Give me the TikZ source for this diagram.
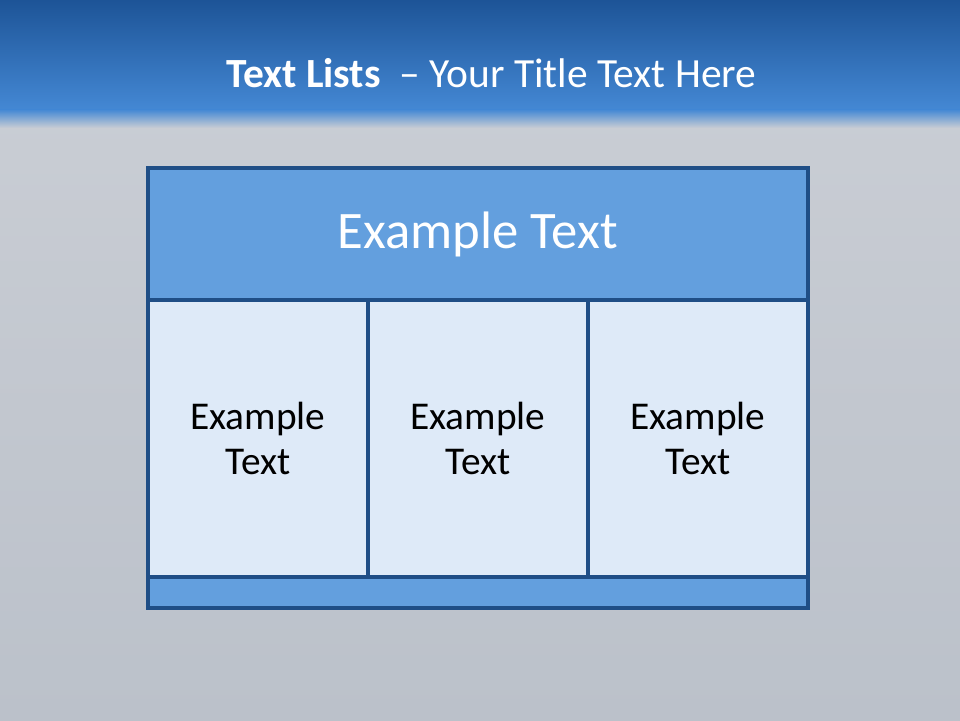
\documentclass[tikz,border=0pt]{standalone}
\usepackage{fontspec}
\setmainfont{Carlito}
\usepackage{xcolor}
\usetikzlibrary{positioning}
\definecolor{bandtop}{HTML}{1D5497}
\definecolor{bandbot}{HTML}{4488D4}
\definecolor{bgtop}{HTML}{C9CDD4}
\definecolor{bgbot}{HTML}{BBC1CA}
\definecolor{edge}{HTML}{1F4E86}
\definecolor{headfill}{HTML}{639FDE}
\definecolor{cellfill}{HTML}{DEEAF8}

\begin{document}
\begin{tikzpicture}[
  every node/.style={font=\rmfamily},
  headcell/.style={
    rectangle, draw=edge, line width=2.4pt,
    fill=headfill, text=white, outer sep=0pt,
    minimum width=16.5cm, minimum height=3.3cm,
    anchor=north west, font=\fontsize{37.5}{45}\selectfont
  },
  colcell/.style={
    rectangle, draw=edge, line width=2.4pt,
    fill=cellfill, text=black, outer sep=0pt, align=center,
    minimum width=5.5cm, minimum height=6.925cm,
    anchor=north west, font=\fontsize{28}{32.5}\selectfont
  },
  footcell/.style={
    rectangle, draw=edge, line width=2.4pt,
    fill=headfill, outer sep=0pt,
    minimum width=16.5cm, minimum height=0.775cm,
    anchor=north west
  }
]
\useasboundingbox (0,0) rectangle (24,18);

% Background and title band
\shade[top color=bgtop, bottom color=bgbot] (0,0) rectangle (24,15.3);
\shade[top color=bandtop, bottom color=bandbot] (0,15.25) rectangle (24,18);
\shade[top color=bandbot, bottom color=bgtop] (0,14.8) rectangle (24,15.26);

% Title
\node[text=white, anchor=base, font=\fontsize{29.5}{35}\selectfont] (title) at (12.28,15.8)
  {\textbf{Text Lists}~ – Your Title Text Here};

% Table
\node[headcell] (head) at (3.7,13.8) {Example Text};
\foreach \i/\x in {1/3.7, 2/9.2, 3/14.7} {
  \node[colcell] (col\i) at (\x,10.5) {Example\\Text};
}
\node[footcell] (foot) at (3.7,3.575) {};

\end{tikzpicture}
\end{document}
